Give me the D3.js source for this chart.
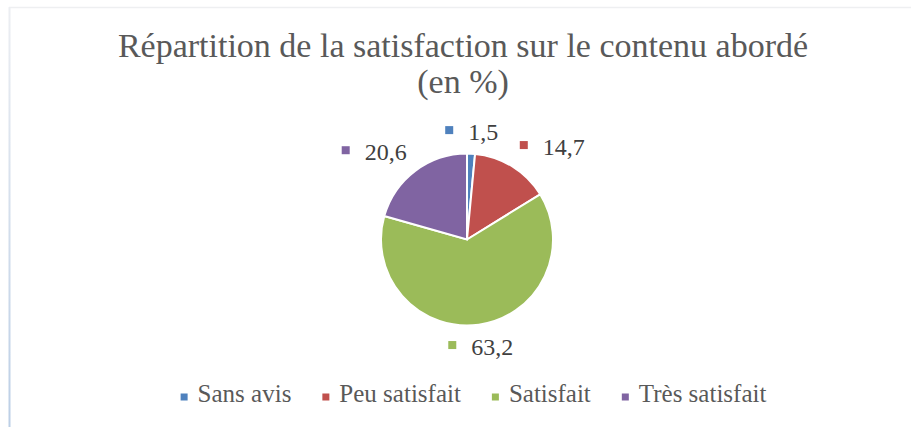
<!DOCTYPE html>
<html>
<head>
<meta charset="utf-8">
<script src="https://cdn.jsdelivr.net/npm/d3@7"></script>
<style>
  body { margin: 0; background: #fff; }
  svg { display: block; }
</style>
</head>
<body>
<script>
// data
var categories = ["Sans avis", "Peu satisfait", "Satisfait", "Très satisfait"];
var values = [1.5, 14.7, 63.2, 20.6];
var labels = ["1,5", "14,7", "63,2", "20,6"];
var colors = ["#4f81bd", "#c0504d", "#9bbb59", "#8064a2"];
var titleLines = ["Répartition de la satisfaction sur le contenu abordé", "(en %)"];

var w = 911, h = 427;
var cx = 467, cy = 239.5, radius = 86;
var font = "'Liberation Serif', 'Times New Roman', serif";

var svg = d3.select("body").append("svg")
    .attr("width", w)
    .attr("height", h);

// faint chart-area border (top and left edge)
var grad = svg.append("defs").append("linearGradient")
    .attr("id", "leftEdge").attr("x1", 0).attr("y1", 0).attr("x2", 0).attr("y2", 1);
grad.append("stop").attr("offset", "0%").attr("stop-color", "#eceef2");
grad.append("stop").attr("offset", "100%").attr("stop-color", "#bccfe6");
svg.append("line").attr("x1", 9).attr("x2", w).attr("y1", 7.5).attr("y2", 7.5)
    .attr("stroke", "#eeeff1").attr("stroke-width", 1.5);
svg.append("rect").attr("x", 8.5).attr("y", 7).attr("width", 2).attr("height", h - 7)
    .attr("fill", "url(#leftEdge)");

// title
svg.append("text")
    .attr("x", 463)
    .attr("y", 57)
    .attr("text-anchor", "middle")
    .attr("font-family", font)
    .attr("font-size", 34)
    .attr("fill", "#595959")
    .selectAll("tspan")
    .data(titleLines)
    .enter().append("tspan")
    .attr("x", 463)
    .attr("dy", function(d, i) { return i === 0 ? 0 : 36; })
    .text(function(d) { return d; });

// pie
var pie = d3.pie().sort(null).value(function(d) { return d; });
var arcs = pie(values);
var arc = d3.arc().innerRadius(0).outerRadius(radius);

var g = svg.append("g").attr("transform", "translate(" + cx + "," + cy + ")");

g.selectAll("path")
    .data(arcs)
    .enter().append("path")
    .attr("d", arc)
    .attr("fill", function(d, i) { return colors[i]; })
    .attr("stroke", "#fff")
    .attr("stroke-width", 2);

// data labels: marker + value, placed just outside the pie
var labelR = 100, markerSize = 8, textGap = 23, boxH = 16;
var side = function(v) {
    var m = Math.max(0, Math.min(1, (Math.abs(v) - 0.15) * 3));
    return v < 0 ? -m : m;
};

var lab = g.selectAll("g.label")
    .data(arcs)
    .enter().append("g")
    .attr("class", "label");

lab.append("text")
    .attr("font-family", font)
    .attr("font-size", 24)
    .attr("fill", "#404040")
    .text(function(d, i) { return labels[i]; });

lab.each(function(d, i) {
    var el = d3.select(this);
    var tw = el.select("text").node().getComputedTextLength();
    var bw = textGap + tw;
    var a = (d.startAngle + d.endAngle) / 2;
    var ax = Math.sin(a) * labelR, ay = -Math.cos(a) * labelR;
    var bx = ax + side(Math.sin(a)) * bw / 2;
    var by = ay + side(-Math.cos(a)) * boxH / 2;
    var left = bx - bw / 2;
    el.insert("rect", "text")
        .attr("x", left)
        .attr("y", by - 1.5 - markerSize / 2)
        .attr("width", markerSize)
        .attr("height", markerSize)
        .attr("fill", colors[i]);
    el.select("text")
        .attr("x", left + textGap)
        .attr("y", by + 8.5);
});

// legend
var legend = svg.append("g");
var items = legend.selectAll("g")
    .data(categories)
    .enter().append("g");

items.append("rect")
    .attr("width", 7)
    .attr("height", 7)
    .attr("y", 393.5)
    .attr("fill", function(d, i) { return colors[i]; });

items.append("text")
    .attr("y", 402)
    .attr("font-family", font)
    .attr("font-size", 25)
    .attr("fill", "#595959")
    .text(function(d) { return d; });

var x = 0;
items.each(function() {
    var el = d3.select(this);
    var tw = el.select("text").node().getComputedTextLength();
    el.select("rect").attr("x", x);
    el.select("text").attr("x", x + 17);
    x += 17 + tw + 31;
});
var total = x - 31;
legend.attr("transform", "translate(" + (473.5 - total / 2) + ",0)");
</script>
</body>
</html>
